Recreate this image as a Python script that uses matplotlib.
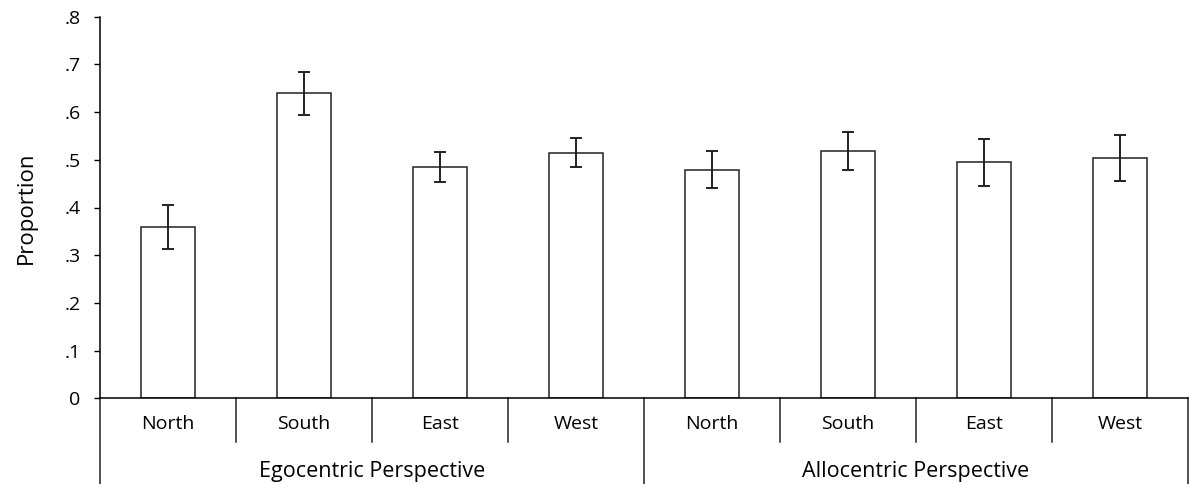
import numpy as np
import matplotlib
matplotlib.use('Agg')
import matplotlib.pyplot as plt
from matplotlib.transforms import blended_transform_factory

plt.rcParams['font.family'] = ['Open Sans', 'DejaVu Sans']

groups = ['Egocentric Perspective', 'Allocentric Perspective']
directions = ['North', 'South', 'East', 'West']
ego_means = [0.360, 0.639, 0.485, 0.515]
ego_err = [0.046, 0.045, 0.032, 0.031]
allo_means = [0.479, 0.519, 0.495, 0.504]
allo_err = [0.039, 0.040, 0.049, 0.049]
yticks = [0, 0.1, 0.2, 0.3, 0.4, 0.5, 0.6, 0.7, 0.8]
ytick_labels = ['0', '.1', '.2', '.3', '.4', '.5', '.6', '.7', '.8']

means = ego_means + allo_means
errs = ego_err + allo_err
n = len(means)
x = np.arange(n) + 0.5

fig = plt.figure(figsize=(11.89, 4.84), dpi=100)
ax = fig.add_axes([100 / 1189, 1 - 398.3 / 484, 1088 / 1189, (398.3 - 16.7) / 484])

ax.bar(x, means, width=0.4, color='white', edgecolor='#222222', linewidth=1.1)
ax.errorbar(x, means, yerr=errs, fmt='none', ecolor='#222222',
            elinewidth=1.4, capsize=4.5, capthick=1.4)

ax.set_xlim(0, n)
ax.set_ylim(0, 0.8)
ax.set_yticks(yticks)
ax.set_yticklabels(ytick_labels, fontsize=14)
ax.set_xticks([])
ax.tick_params(axis='y', direction='out', length=4, width=1, pad=10)
for s in ['top', 'right']:
    ax.spines[s].set_visible(False)
for s in ['left', 'bottom']:
    ax.spines[s].set_linewidth(1.1)
ax.set_ylabel('Proportion', fontsize=16, labelpad=20)

# category and group separators below the axis
tr = blended_transform_factory(ax.transData, fig.transFigure)
y_axis = 1 - 398.3 / 484
y_cat = 1 - 442 / 484
lw = 1.1
ax.plot([0, 0], [y_axis, 0], transform=tr, color='#222222', lw=lw, clip_on=False)
ax.plot([n, n], [y_axis, 0], transform=tr, color='#222222', lw=lw, clip_on=False)
for i in range(1, n):
    if i % len(directions) == 0:
        ax.plot([i, i], [y_axis, 0], transform=tr, color='#222222', lw=lw, clip_on=False)
    else:
        ax.plot([i, i], [y_axis, y_cat], transform=tr, color='#222222', lw=lw, clip_on=False)

for i, xi in enumerate(x):
    ax.text(xi, 1 - 424 / 484, directions[i % len(directions)], transform=tr,
            ha='center', va='center', fontsize=14)
for g, name in enumerate(groups):
    gx = g * len(directions) + len(directions) / 2
    ax.text(gx, 1 - 471 / 484, name, transform=tr, ha='center', va='center', fontsize=15.5)

fig.savefig('out.png', dpi=100)
